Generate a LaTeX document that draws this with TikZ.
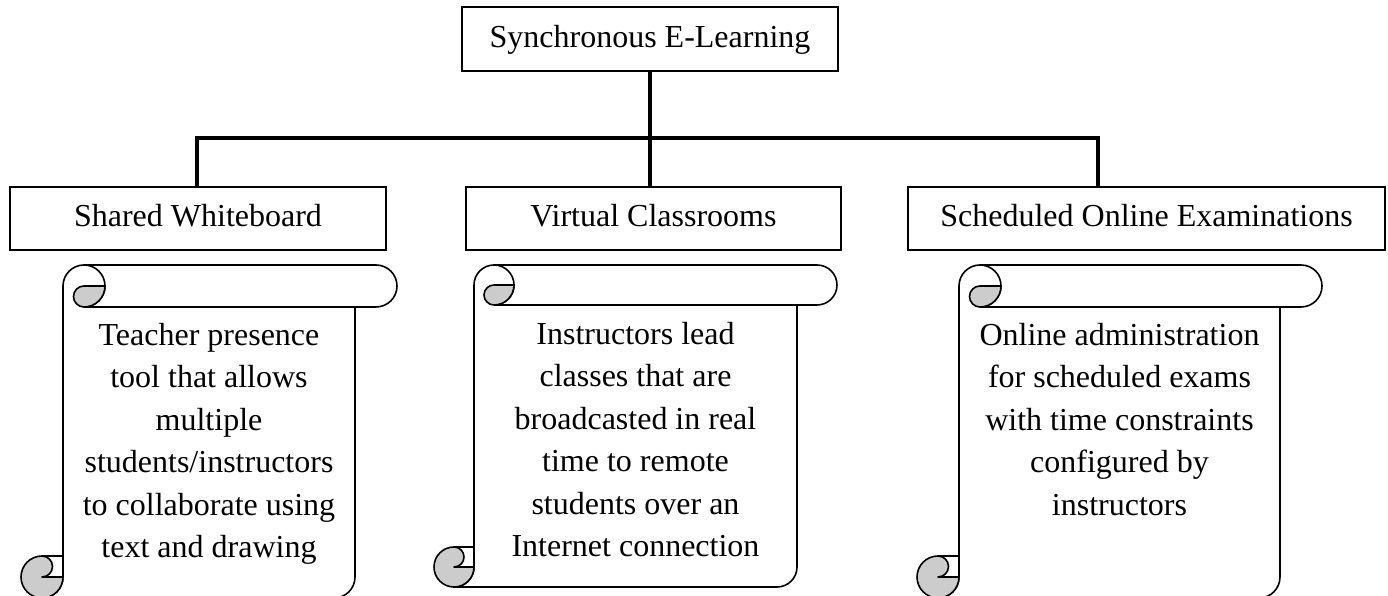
\documentclass[tikz,border=0pt]{standalone}
\usepackage{fontspec}
\setmainfont{Liberation Serif}
\tikzset{
  boxnode/.style={draw, line width=1.6pt, inner sep=0pt, text height=20pt, text depth=3pt,
    font=\fontsize{32}{42.5}\selectfont},
  conn/.style={line width=3.2pt},
  scrollline/.style={line width=1.6pt, line join=round},
  scrollfill/.style={fill=black!20, draw, line width=1.6pt, line join=round},
  scrolltext/.style={anchor=north, align=center, inner sep=0pt,
    font=\fontsize{32}{42.5}\selectfont}
}
% #1=L #2=R #3=T #4=B #5=r (image px, y down)
\newcommand\drawscroll[5]{%
  \pgfmathsetmacro\sL{#1}\pgfmathsetmacro\sR{#2}%
  \pgfmathsetmacro\sT{596-#3}\pgfmathsetmacro\sB{596-#4}\pgfmathsetmacro\sr{#5}%
  \pgfmathsetmacro\sh{#5/2}%
  % band
  \draw[scrollline] (\sL,\sT-\sr) arc[start angle=180,end angle=90,radius=\sr pt]
     -- (\sR-\sr,\sT) arc[start angle=90,end angle=-90,radius=\sr pt]
     -- (\sL+\sr,\sT-2*\sr);
  \draw[scrollline] (\sL+\sr,\sT) arc[start angle=90,end angle=-90,radius=\sr pt];
  % body
  \draw[scrollline] (\sL,\sT-\sr) -- (\sL,\sB+\sr) arc[start angle=0,end angle=-90,radius=\sr pt]
     -- (\sR-3*\sr,\sB) arc[start angle=-90,end angle=0,radius=\sr pt]
     -- (\sR-2*\sr,\sT-2*\sr);
  % top curl shading
  \draw[scrollfill] (\sL+\sr,\sT-\sr) -- (\sL+2*\sr,\sT-\sr)
     arc[start angle=0,end angle=-90,radius=\sr pt]
     arc[start angle=-90,end angle=-270,radius=\sh pt] -- cycle;
  % bottom curl
  \draw[scrollfill] (\sL,\sB+\sr) -- (\sL-\sr,\sB+\sr)
     arc[start angle=-90,end angle=90,radius=\sh pt]
     arc[start angle=90,end angle=360,radius=\sr pt] -- cycle;
  \draw[scrollline] (\sL-\sr,\sB+2*\sr) -- (\sL,\sB+2*\sr);
}
\begin{document}
\begin{tikzpicture}[x=1pt,y=1pt]
\useasboundingbox (0,0) rectangle (1388,596);
\clip (0,0) rectangle (1388,596);
\fill[white] (0,0) rectangle (1388,596);

\node[boxnode, minimum width=376pt, minimum height=64pt] (top) at (650,557) {Synchronous E-Learning};
\node[boxnode, minimum width=376pt, minimum height=63pt] (sw) at (198,377.5) {Shared Whiteboard};
\node[boxnode, minimum width=375pt, minimum height=63pt] (vc) at (653.5,377.5) {Virtual Classrooms};
\node[boxnode, minimum width=477pt, minimum height=63pt] (se) at (1146.5,377.5) {Scheduled Online Examinations};

\coordinate (jl) at (197,458);
\coordinate (jr) at (1098,458);
\draw[conn] (top.south) -- (top.south |- vc.north);
\draw[conn] (jl |- sw.north) -- (jl) -- (jr) -- (jr |- se.north);

\drawscroll{63}{397}{265}{598}{21}
\drawscroll{474}{837}{265}{587}{20}
\drawscroll{959}{1322}{265}{598}{21}

\node[scrolltext] (t1) at (209,273) {Teacher presence\\tool that allows\\multiple\\students/instructors\\to collaborate using\\text and drawing};
\node[scrolltext] (t2) at (635.5,274) {Instructors lead\\classes that are\\broadcasted in real\\time to remote\\students over an\\Internet connection};
\node[scrolltext] (t3) at (1119.5,273) {Online administration\\for scheduled exams\\with time constraints\\configured by\\instructors};
\end{tikzpicture}
\end{document}
